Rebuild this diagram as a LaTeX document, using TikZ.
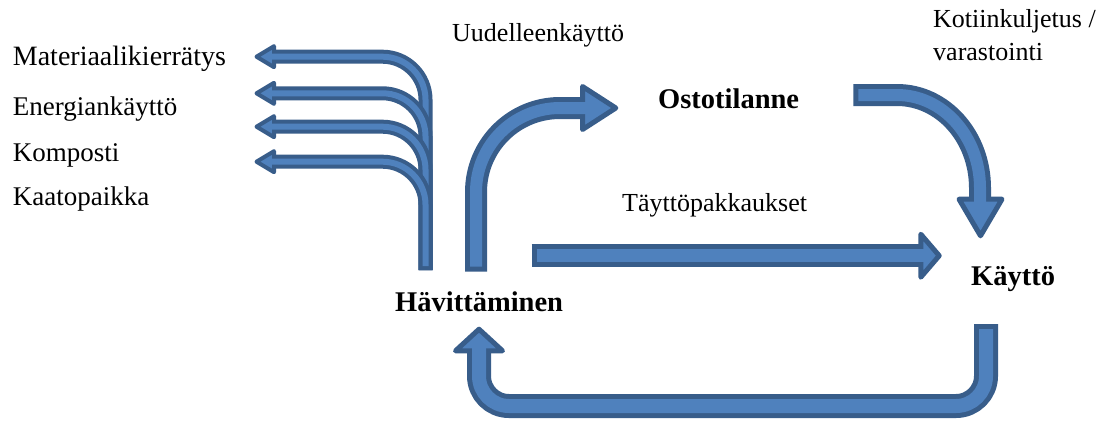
\documentclass[tikz,border=0pt]{standalone}
\usepackage{fontspec}
\setmainfont{Liberation Serif}
\definecolor{arrfill}{HTML}{4F81BD}
\definecolor{arrline}{HTML}{385D8A}
% #1 shaft path, #2 head polygon, #3 outer width, #4 inner width, #5 border
\newcommand\myarrow[5]{%
  \draw[arrline, line width=#3, line join=round] #1;
  \filldraw[fill=arrfill, draw=arrline, line width=#5, line join=round] #2 -- cycle;
  \draw[arrfill, line width=#4, line join=round, shorten <=#5, shorten >=-#5] #1;
}
\begin{document}
\begin{tikzpicture}[x=1pt,y=-1pt,
  lbl/.style={anchor=base west, inner sep=0pt, font=\fontsize{26}{30}\selectfont},
  llbl/.style={anchor=base west, inner sep=0pt, font=\fontsize{27}{31}\selectfont},
  blbl/.style={anchor=base west, inner sep=0pt, font=\fontsize{28.5}{33}\selectfont\bfseries}]
\useasboundingbox (0,0) rectangle (1115,424);
\fill[white] (0,0) rectangle (1115,424);

% bundle of four thin bent arrows
\myarrow{(425.5,270) -- (425.5,99.7) .. controls (425.5,76) and (406.2,56.7) .. (382.5,56.7) -- (274,56.7)}
        {(256.5,56.7) -- (274,46.2) -- (274,67.2)}{14pt}{6pt}{4pt}
\myarrow{(425.5,270) -- (425.5,136.3) .. controls (425.5,112.6) and (406.2,93.3) .. (382.5,93.3) -- (274,93.3)}
        {(256.5,93.3) -- (274,82.8) -- (274,103.8)}{14pt}{6pt}{4pt}
\myarrow{(425.5,270) -- (425.5,169.7) .. controls (425.5,146) and (406.2,126.7) .. (382.5,126.7) -- (274,126.7)}
        {(256.5,126.7) -- (274,116.2) -- (274,137.2)}{14pt}{6pt}{4pt}
\myarrow{(425.5,270) -- (425.5,204.7) .. controls (425.5,181) and (406.2,161.7) .. (382.5,161.7) -- (274,161.7)}
        {(256.5,161.7) -- (274,151.2) -- (274,172.2)}{14pt}{6pt}{4pt}

% Uudelleenkaytto arrow
\myarrow{(476,271.7) -- (476,192) .. controls (476,145.6) and (513.6,108) .. (560,108) -- (582.5,108)}
        {(615.8,108) -- (582.5,86.5) -- (582.5,129.5)}{22pt}{12pt}{5pt}

% Ostotilanne -> Kaytto
\myarrow{(853.3,95) -- (897,95) .. controls (942.8,95) and (980,136.6) .. (980,188) -- (980,199.2)}
        {(980.5,235.8) -- (959,199.2) -- (1002,199.2)}{22pt}{12pt}{5pt}

% Tayttopakkaukset
\myarrow{(531.7,255.7) -- (920.8,255.7)}
        {(939.2,255.7) -- (920.8,234.2) -- (920.8,277.2)}{23pt}{13pt}{5pt}

% bottom U arrow
\myarrow{(986,324) -- (986,376) .. controls (986,392.6) and (972.6,406) .. (956,406) -- (509,406) .. controls (492.4,406) and (479,392.6) .. (479,376) -- (479,350.8)}
        {(479,329.2) -- (455.5,350.8) -- (502.5,350.8)}{24pt}{14pt}{5pt}

% labels
\node[llbl, font=\fontsize{28}{32}\selectfont] (mat) at (12.7,65) {Materiaalikierrätys};
\node[llbl] (ene) at (12.7,115) {Energiankäyttö};
\node[llbl] (kom) at (12.7,161.7) {Komposti};
\node[llbl] (kaa) at (12.7,205) {Kaatopaikka};
\node[lbl] (uud) at (452,41.7) {Uudelleenkäyttö};
\node[lbl] (kot) at (933,27) {Kotiinkuljetus /};
\node[lbl] (var) at (933,60) {varastointi};
\node[lbl] (tay) at (622,211.7) {Täyttöpakkaukset};
\node[blbl] (ost) at (658,108) {Ostotilanne};
\node[blbl] (hav) at (395,311.7) {Hävittäminen};
\node[blbl] (kay) at (971,285) {Käyttö};
\end{tikzpicture}
\end{document}
